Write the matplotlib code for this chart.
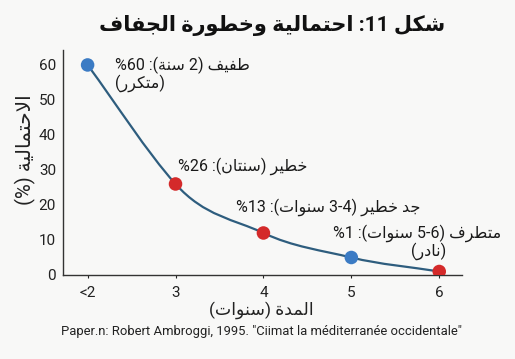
import re

import numpy as np
import matplotlib
matplotlib.use("Agg")
import matplotlib.pyplot as plt
from matplotlib.path import Path
from matplotlib.patches import PathPatch

plt.rcParams["font.family"] = ["Roboto", "DejaVu Sans"]

# --- data -----------------------------------------------------------------
durations = [2, 3, 4, 5, 6]
tick_labels = ["<2", "3", "4", "5", "6"]
probability = [60, 26, 12, 5, 1]
point_colors = ["#3b7bc4", "#d42a2a", "#d42a2a", "#3b7bc4", "#d42a2a"]

TITLE = "شكل 11: احتمالية وخطورة الجفاف"
XLABEL = "المدة (سنوات)"
YLABEL = "الاحتمالية (%)"
SOURCE = 'Paper.n: Robert Ambroggi, 1995. "Ciimat la méditerranée occidentale"'

labels = [
    "طفيف (2 سنة): 60%",
    "(متكرر)",
    "خطير (سنتان): 26%",
    "جد خطير (3-4 سنوات): 13%",
    "متطرف (5-6 سنوات): 1%",
    "(نادر)",
]

# --- minimal arabic shaping + rtl ordering (matplotlib has no text layout) --
_F = {
    "ا": "\uFE8D\uFE8E", "ة": "\uFE93\uFE94", "د": "\uFEA9\uFEAA",
    "ر": "\uFEAD\uFEAE", "و": "\uFEED\uFEEE",
    "ت": "\uFE95\uFE96\uFE97\uFE98", "ج": "\uFE9D\uFE9E\uFE9F\uFEA0",
    "ح": "\uFEA1\uFEA2\uFEA3\uFEA4", "خ": "\uFEA5\uFEA6\uFEA7\uFEA8",
    "س": "\uFEB1\uFEB2\uFEB3\uFEB4", "ش": "\uFEB5\uFEB6\uFEB7\uFEB8",
    "ط": "\uFEC1\uFEC2\uFEC3\uFEC4", "ف": "\uFED1\uFED2\uFED3\uFED4",
    "ك": "\uFED9\uFEDA\uFEDB\uFEDC", "ل": "\uFEDD\uFEDE\uFEDF\uFEE0",
    "م": "\uFEE1\uFEE2\uFEE3\uFEE4", "ن": "\uFEE5\uFEE6\uFEE7\uFEE8",
    "ي": "\uFEF1\uFEF2\uFEF3\uFEF4",
}


def _dual(c):
    return c in _F and len(_F[c]) == 4


def ar(text):
    out = []
    i = 0
    while i < len(text):
        c = text[i]
        if c not in _F:
            out.append(c)
            i += 1
            continue
        jp = i > 0 and _dual(text[i - 1])
        if c == "ل" and i + 1 < len(text) and text[i + 1] == "ا":
            out.append("\uFEFC" if jp else "\uFEFB")
            i += 2
            continue
        jn = _dual(c) and i + 1 < len(text) and text[i + 1] in _F
        f = _F[c]
        if jp and jn:
            out.append(f[3])
        elif jn:
            out.append(f[2])
        elif jp:
            out.append(f[1])
        else:
            out.append(f[0])
        i += 1
    toks = re.findall(r"\d+(?:-\d+)?|.", "".join(out))
    mirror = {"(": ")", ")": "("}
    return "".join(mirror.get(t, t) for t in reversed(toks))


# --- figure ---------------------------------------------------------------
BG = "#f8f8f7"
fig = plt.figure(figsize=(5.15, 3.59), dpi=100, facecolor=BG)
ax = fig.add_axes([0.1223, 0.234, 0.775, 0.627], facecolor=BG)

# smooth curve through the points (cubic hermite as bezier segments,
# tangents leaning on the left-hand secant so the early drop stays straight)
x = np.array(durations, float)
y = np.array(probability, float)
d = np.diff(y) / np.diff(x)
m = np.concatenate([[d[0]], 0.7 * d[:-1] + 0.3 * d[1:], [d[-1]]])
verts = [(x[0], y[0])]
codes = [Path.MOVETO]
for k in range(len(x) - 1):
    h = (x[k + 1] - x[k]) / 3
    verts += [(x[k] + h, y[k] + h * m[k]),
              (x[k + 1] - h, y[k + 1] - h * m[k + 1]),
              (x[k + 1], y[k + 1])]
    codes += [Path.CURVE4] * 3
ax.add_patch(PathPatch(Path(verts, codes), fill=False,
                       edgecolor="#2e5d7e", lw=1.6, zorder=2))
ax.scatter(durations, probability, s=95, c=point_colors, zorder=3,
           edgecolors="none")

ax.set_xlim(1.72, 6.26)
ax.set_ylim(0, 64.3)
ax.set_xticks(durations)
ax.set_xticklabels(tick_labels)
ax.set_yticks(range(0, 61, 10))
for s in ("top", "right"):
    ax.spines[s].set_visible(False)
for s in ("left", "bottom"):
    ax.spines[s].set_color("#333333")
    ax.spines[s].set_linewidth(1.0)
ax.tick_params(axis="y", length=0, pad=5, labelsize=11, colors="#222222")
ax.tick_params(axis="x", length=2, pad=6, labelsize=11, colors="#222222")

# annotations
txt = dict(fontsize=11.5, color="#1a1a1a", va="center")
ax.text(2.31, 60.0, ar(labels[0]), ha="left", **txt)
ax.text(2.31, 54.8, ar(labels[1]), ha="left", **txt)
ax.text(3.03, 31.0, ar(labels[2]), ha="left", **txt)
ax.text(3.69, 19.4, ar(labels[3]), ha="left", **txt)
ax.text(6.70, 12.0, ar(labels[4]), ha="right", clip_on=False, **txt)
ax.text(6.08, 6.9, ar(labels[5]), ha="right", **txt)

fig.text(272 / 515, 1 - 26 / 359, ar(TITLE), ha="center", va="center",
         fontsize=15, fontweight="bold", color="#111111")
fig.text(25 / 515, 1 - 150 / 359, ar(YLABEL), rotation=90, ha="center",
         va="center", fontsize=14.5, color="#222222")
fig.text(261 / 515, 1 - 310 / 359, ar(XLABEL), ha="center", va="center",
         fontsize=12.5, color="#222222")
fig.text(261 / 515, 1 - 332 / 359, SOURCE, ha="center", va="center",
         fontsize=9.4, color="#222222")

fig.savefig("out.png", dpi=100, facecolor=BG)
